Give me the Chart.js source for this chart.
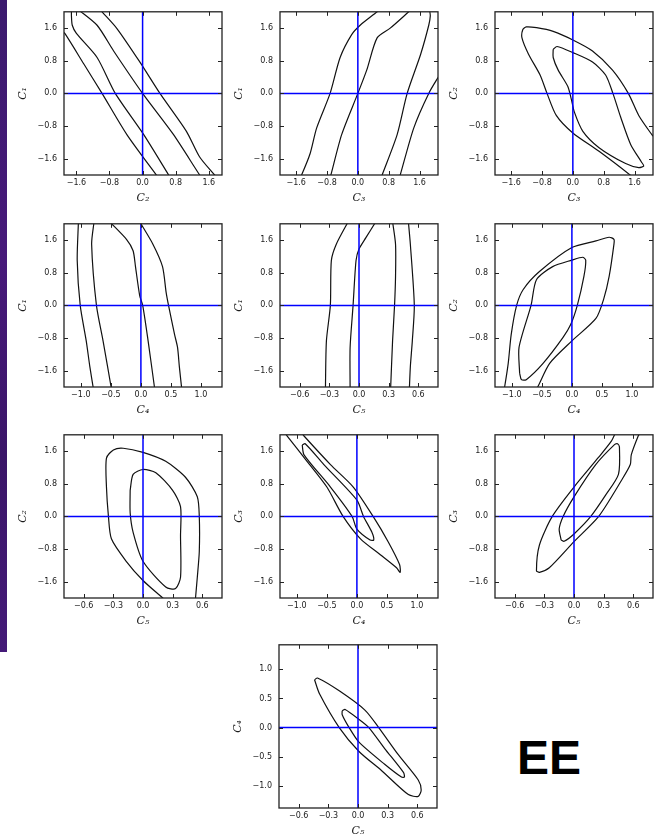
<!DOCTYPE html>
<html>
<head>
<meta charset="utf-8">
<script src="https://cdn.jsdelivr.net/npm/chart.js@4.4.0/dist/chart.umd.min.js"></script>
<style>
  body { margin: 0; width: 666px; height: 838px; background: #fff; position: relative; overflow: hidden; }
  .strip { position: absolute; left: 0; top: 0; width: 7px; height: 652px;
           background: linear-gradient(180deg, #3b1a6e 0%, #47197a 40%, #3a1568 70%, #441a78 100%); }
  canvas { position: absolute; }
  .ee { position: absolute; left: 517px; top: 734px; font: bold 48px "Liberation Sans", Arial, sans-serif; line-height: 48px; color: #000; }
</style>
</head>
<body>
<div class="strip"></div>
<div class="ee">EE</div>
<script>
// tick values for each parameter
const ticksC123 = [-1.6, -0.8, 0.0, 0.8, 1.6];
const ticksC4 = [-1.0, -0.5, 0.0, 0.5, 1.0];
const ticksC5 = [-0.6, -0.3, 0.0, 0.3, 0.6];

// contour lines, [x, y] pairs
// C2 (x) vs C1 (y)
const p1A = [[-1.95,1.52],[-1.88,1.47],[-1.42,0.72],[-0.98,0],[-0.38,-1.01],[0.34,-2.01],[0.38,-2.06]];
const p1B = [[-1.72,2.05],[-1.72,1.9],[-1.70,1.67],[-1.6,1.47],[-1.1,0.88],[-0.66,0],[0.02,-1.0],[0.66,-2.05]];
const p1C = [[-1.55,2.05],[-1.1,1.67],[-0.7,1.04],[0,0],[0.74,-1.0],[1.38,-2.0],[1.42,-2.05]];
const p1D = [[-1.02,2.05],[-0.98,2.0],[-0.62,1.59],[-0.06,0.76],[0.42,0],[1.06,-0.93],[1.38,-1.56],[1.74,-2.0],[1.78,-2.05]];
// C3 vs C1
const p2A = [[-1.5,-2.05],[-1.46,-2.0],[-1.24,-1.48],[-1.07,-0.85],[-0.72,0],[-0.46,0.88],[-0.16,1.44],[0.06,1.67],[0.5,2.0],[0.55,2.05]];
const p2B = [[-0.72,-2.05],[-0.70,-2.0],[-0.42,-1.01],[0,0],[0.23,0.57],[0.5,1.36],[0.84,1.6],[1.32,2.0],[1.38,2.05]];
const p2C = [[0.61,-2.05],[0.63,-2.0],[1.02,-1.01],[1.28,0],[1.63,0.96],[1.84,1.67],[1.88,1.9],[1.86,2.05]];
const p2D = [[1.08,-2.05],[1.10,-2.0],[1.45,-0.85],[1.84,0],[2.12,0.45]];
// C3 vs C2
const p3Outer = [[1.53,-2.05],[1.50,-2.01],[0.68,-1.42],[0,-0.97],[-0.43,-0.54],[-0.67,0],[-0.85,0.45],[-1.15,0.96],[-1.32,1.36],[-1.30,1.56],[-1.21,1.63],[-0.94,1.61],[-0.51,1.52],[0,1.31],[0.51,1.04],[1.03,0.57],[1.44,0],[1.71,-0.54],[2.05,-1.01],[2.12,-1.08]];
const p3Inner = [[-0.51,1.08],[-0.41,1.15],[0,1.0],[0.51,0.77],[0.85,0.45],[1.04,0],[1.24,-0.58],[1.50,-1.25],[1.78,-1.68],[1.84,-1.78],[1.71,-1.82],[1.37,-1.72],[0.68,-1.33],[0.26,-0.93],[0.04,-0.46],[-0.04,-0.14],[-0.13,0.17],[-0.38,0.57],[-0.51,0.88],[-0.51,1.08]];
// C4 vs C1
const p4A = [[-1.04,2.05],[-1.06,1.1],[-1.01,0],[-0.91,-0.87],[-0.85,-1.5],[-0.79,-2.05]];
const p4B = [[-0.78,2.05],[-0.82,1.5],[-0.74,0],[-0.63,-0.87],[-0.49,-2.05]];
const p4C = [[-0.52,2.05],[-0.24,1.62],[-0.13,1.34],[-0.09,0.95],[-0.02,0.24],[0.03,0],[0.12,-0.87],[0.23,-2.05]];
const p4D = [[-0.02,2.05],[0.2,1.5],[0.36,0.95],[0.42,0.32],[0.46,0],[0.56,-0.71],[0.61,-1.03],[0.64,-1.5],[0.68,-2.05]];
// C5 vs C1
const p5A = [[-0.11,2.05],[-0.23,1.5],[-0.28,1.1],[-0.29,0],[-0.33,-0.87],[-0.34,-2.05]];
const p5B = [[0.17,2.05],[0.07,1.66],[0,1.38],[-0.03,1.1],[-0.06,0],[-0.09,-1.03],[-0.09,-2.05]];
const p5C = [[0.34,2.05],[0.37,1.5],[0.37,0.71],[0.36,0],[0.34,-0.87],[0.32,-2.05]];
const p5D = [[0.5,2.05],[0.52,1.5],[0.56,0],[0.54,-0.87],[0.52,-1.5],[0.51,-2.05]];
// C4 vs C2
const p6Outer = [[-1.13,-2.05],[-1.12,-2.0],[-1.06,-1.42],[-1.01,-0.71],[-0.92,0],[-0.81,0.39],[-0.54,0.83],[0,1.42],[0.4,1.58],[0.62,1.67],[0.70,1.62],[0.70,1.5],[0.62,0.71],[0.53,0.16],[0.40,-0.32],[0,-0.87],[-0.37,-1.42],[-0.57,-2.0],[-0.6,-2.05]];
const p6Inner = [[-0.87,-1.66],[-0.88,-1.03],[-0.68,0],[-0.59,0.63],[-0.32,0.95],[0,1.11],[0.18,1.18],[0.23,1.11],[0.2,0.71],[0.09,0],[-0.02,-0.47],[-0.15,-0.79],[-0.48,-1.42],[-0.76,-1.82],[-0.84,-1.82],[-0.87,-1.66]];
// C5 vs C2
const p7Outer = [[0.22,-2.05],[0.2,-2.0],[0,-1.57],[-0.17,-1.1],[-0.32,-0.55],[-0.35,0],[-0.37,0.72],[-0.37,1.43],[-0.3,1.63],[-0.2,1.67],[0,1.57],[0.23,1.35],[0.43,0.96],[0.55,0.48],[0.57,0],[0.57,-0.86],[0.55,-1.49],[0.53,-2.05]];
const p7Inner = [[-0.13,0.64],[-0.1,1.03],[0,1.15],[0.13,1.07],[0.3,0.64],[0.38,0.24],[0.38,-0.47],[0.38,-1.49],[0.33,-1.77],[0.23,-1.73],[0,-1.1],[-0.1,-0.39],[-0.13,0.09],[-0.13,0.64]];
// C4 vs C3
const p8Outer = [[-1.2,2.05],[-1.16,1.97],[-0.83,1.35],[-0.5,0.72],[-0.23,0],[0.06,-0.55],[0.39,-0.94],[0.66,-1.26],[0.72,-1.37],[0.71,-1.18],[0.52,-0.62],[0.27,0],[-0.06,0.72],[-0.44,1.27],[-0.88,1.97],[-0.92,2.05]];
const p8Inner = [[-0.91,1.75],[-0.86,1.78],[-0.55,1.27],[0,0.4],[0.11,0],[0.25,-0.39],[0.28,-0.58],[0.22,-0.58],[0,-0.31],[-0.08,0],[-0.44,0.72],[-0.88,1.51],[-0.91,1.75]];
// C5 vs C3
const p9Outer = [[0.42,2.05],[0.38,1.85],[0.25,1.45],[0,0.72],[-0.22,0],[-0.35,-0.70],[-0.38,-1.33],[-0.35,-1.37],[-0.25,-1.26],[0,-0.62],[0.25,0],[0.48,0.88],[0.57,1.27],[0.58,1.51],[0.65,1.97],[0.67,2.05]];
const p9Inner = [[-0.13,-0.58],[-0.15,-0.31],[-0.11,0],[0,0.48],[0.22,1.27],[0.41,1.76],[0.44,1.78],[0.46,1.7],[0.45,1.03],[0.32,0.52],[0.17,0],[0,-0.43],[-0.1,-0.61],[-0.13,-0.58]];
// C5 vs C4
const p10Outer = [[-0.44,0.82],[-0.41,0.85],[-0.19,0.63],[0.07,0.30],[0.21,0],[0.41,-0.47],[0.61,-0.9],[0.64,-1.07],[0.61,-1.18],[0.51,-1.15],[0.24,-0.74],[0.01,-0.41],[-0.19,0],[-0.39,0.58],[-0.44,0.82]];
const p10Inner = [[-0.16,0.29],[-0.13,0.31],[0.01,0.14],[0.11,0],[0.27,-0.36],[0.46,-0.77],[0.47,-0.85],[0.44,-0.85],[0.27,-0.63],[0.01,-0.25],[-0.09,0],[-0.16,0.22],[-0.16,0.29]];

// axis setup per parameter (as x / as y)
const axes = {
  C1: { label: 'C\u2081', ticks: ticksC123, dec: 1, x: [-1.9, 1.9], y: [-2.0, 2.0] },
  C2: { label: 'C\u2082', ticks: ticksC123, dec: 1, x: [-1.9, 1.92], y: [-2.0, 2.0] },
  C3: { label: 'C\u2083', ticks: ticksC123, dec: 1, x: [-2.02, 2.08], y: [-2.0, 2.0] },
  C4: { label: 'C\u2084', ticks: ticksC4, dec: 1, x: [-1.28, 1.35], y: [-1.38, 1.42] },
  C5: { label: 'C\u2085', ticks: ticksC5, dec: 1, x: [-0.8, 0.8], y: [-0.8, 0.8] }
};

const panels = [
  { left: 64,  top: 6,   xv: 'C2', yv: 'C1', curves: [p1A, p1B, p1C, p1D] },
  { left: 280, top: 6,   xv: 'C3', yv: 'C1', curves: [p2A, p2B, p2C, p2D] },
  { left: 495, top: 6,   xv: 'C3', yv: 'C2', curves: [p3Outer, p3Inner] },
  { left: 64,  top: 218, xv: 'C4', yv: 'C1', curves: [p4A, p4B, p4C, p4D] },
  { left: 280, top: 218, xv: 'C5', yv: 'C1', curves: [p5A, p5B, p5C, p5D] },
  { left: 495, top: 218, xv: 'C4', yv: 'C2', curves: [p6Outer, p6Inner] },
  { left: 64,  top: 429, xv: 'C5', yv: 'C2', curves: [p7Outer, p7Inner] },
  { left: 280, top: 429, xv: 'C4', yv: 'C3', curves: [p8Outer, p8Inner] },
  { left: 495, top: 429, xv: 'C5', yv: 'C3', curves: [p9Outer, p9Inner] },
  { left: 279, top: 639, xv: 'C5', yv: 'C4', curves: [p10Outer, p10Inner] }
];

const BOX_W = 158, BOX_H = 169, YW = 47, XH = 30, PAD_T = 6, PAD_R = 8;

const fmt = (v, d) => (v < 0 ? '\u2212' : '') + Math.abs(v).toFixed(d);

// blue zero lines, inward ticks on all sides, frame
const framePlugin = {
  id: 'frame',
  afterDatasetsDraw(chart) {
    const { ctx, chartArea: a, scales: { x, y } } = chart;
    ctx.save();
    ctx.strokeStyle = '#0000ff';
    ctx.lineWidth = 1.5;
    const x0 = x.getPixelForValue(0), y0 = y.getPixelForValue(0);
    ctx.beginPath();
    ctx.moveTo(x0, a.top); ctx.lineTo(x0, a.bottom);
    ctx.moveTo(a.left, y0); ctx.lineTo(a.right, y0);
    ctx.stroke();

    ctx.strokeStyle = '#222';
    ctx.lineWidth = 1;
    ctx.beginPath();
    x.ticks.forEach(t => {
      const px = Math.round(x.getPixelForValue(t.value)) + 0.5;
      ctx.moveTo(px, a.bottom); ctx.lineTo(px, a.bottom - 4);
      ctx.moveTo(px, a.top); ctx.lineTo(px, a.top + 4);
    });
    y.ticks.forEach(t => {
      const py = Math.round(y.getPixelForValue(t.value)) + 0.5;
      ctx.moveTo(a.left, py); ctx.lineTo(a.left + 4, py);
      ctx.moveTo(a.right, py); ctx.lineTo(a.right - 4, py);
    });
    ctx.stroke();
    ctx.lineWidth = 1.3;
    ctx.strokeRect(a.left, a.top, a.right - a.left, a.bottom - a.top);
    ctx.restore();
  }
};

function axisOpts(ax, lim, isX) {
  return {
    type: 'linear',
    min: lim[0],
    max: lim[1],
    afterBuildTicks: s => { s.ticks = ax.ticks.map(v => ({ value: v })); },
    afterFit: s => { if (isX) s.height = XH; else s.width = YW; },
    grid: { display: false, drawTicks: false },
    border: { display: false },
    ticks: {
      padding: isX ? 3 : 7,
      autoSkip: false,
      maxRotation: 0,
      color: '#1a1a1a',
      font: { family: 'DejaVu Sans', size: 8 },
      callback: v => fmt(v, ax.dec)
    },
    title: {
      display: true,
      text: ax.label,
      color: '#1a1a1a',
      padding: 0,
      font: { family: 'DejaVu Serif', style: 'italic', size: 11 }
    }
  };
}

panels.forEach(p => {
  const cv = document.createElement('canvas');
  cv.width = YW + BOX_W + PAD_R;
  cv.height = PAD_T + BOX_H + XH;
  cv.style.left = (p.left - YW) + 'px';
  cv.style.top = (p.top - PAD_T) + 'px';
  document.body.appendChild(cv);

  const xa = axes[p.xv], ya = axes[p.yv];
  new Chart(cv.getContext('2d'), {
    type: 'scatter',
    data: {
      datasets: p.curves.map(c => ({
        data: c.map(([x, y]) => ({ x, y })),
        showLine: true,
        borderColor: '#111',
        borderWidth: 1.2,
        pointRadius: 0,
        tension: 0.25,
        fill: false
      }))
    },
    options: {
      responsive: false,
      animation: false,
      events: [],
      layout: { padding: { top: PAD_T, right: PAD_R, left: 0, bottom: 0 } },
      plugins: { legend: { display: false }, tooltip: { enabled: false } },
      scales: {
        x: axisOpts(xa, xa.x, true),
        y: axisOpts(ya, ya.y, false)
      }
    },
    plugins: [framePlugin]
  });
});
</script>
</body>
</html>
